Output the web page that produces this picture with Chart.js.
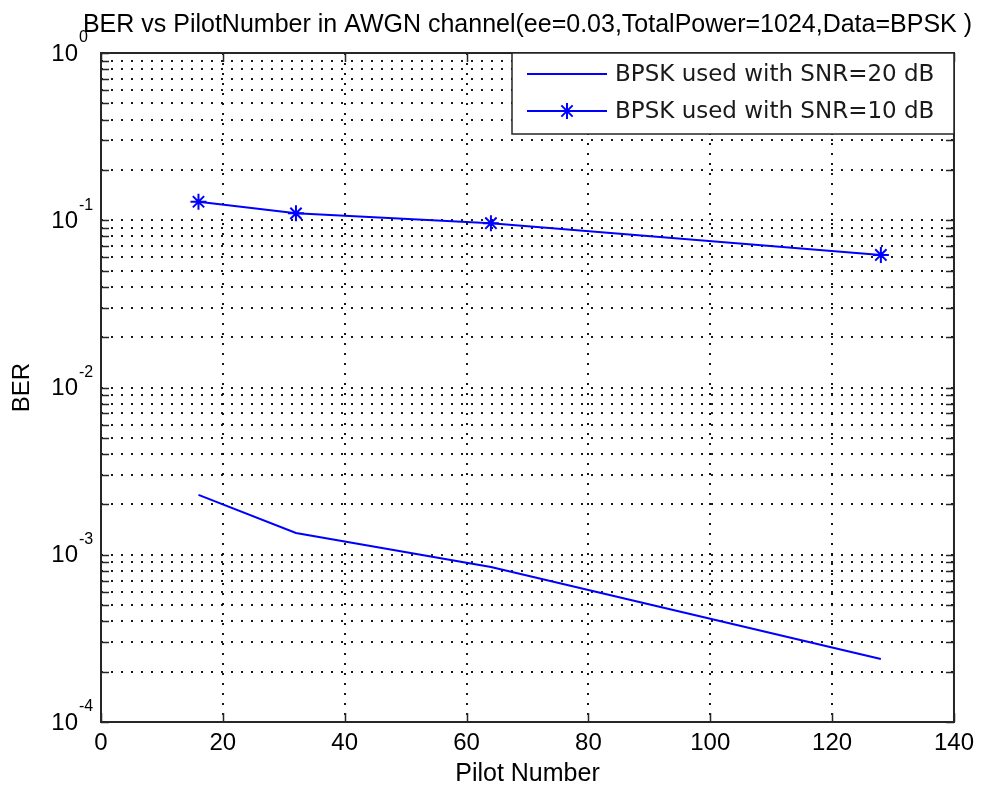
<!DOCTYPE html>
<html>
<head>
<meta charset="utf-8">
<title>BER vs PilotNumber</title>
<script src="https://cdn.jsdelivr.net/npm/chart.js@4.4.1/dist/chart.umd.min.js"></script>
<style>
  html, body { margin: 0; padding: 0; background: #fff; }
  #wrap { width: 981px; height: 789px; }
</style>
</head>
<body>
<div id="wrap"><canvas id="ber" width="981" height="789"></canvas></div>
<script>
// pilot counts on the x axis
const pilotNumbers = [16, 32, 64, 128];
// measured bit error rates
const berSnr20 = [2.28e-3, 1.35e-3, 8.45e-4, 2.38e-4];
const berSnr10 = [0.129, 0.110, 0.096, 0.062];
const seriesLabels = ['BPSK used with SNR=20 dB', 'BPSK used with SNR=10 dB'];

// axis ticks
const xTicks = [0, 20, 40, 60, 80, 100, 120, 140];
const yDecades = [-4, -3, -2, -1, 0];
const yMinorSteps = [2, 3, 4, 5, 6, 7, 8, 9];
const titleText = 'BER vs PilotNumber in AWGN channel(ee=0.03,TotalPower=1024,Data=BPSK )';

const yTicks = [];
yDecades.forEach(function (d) {
  yTicks.push(Math.pow(10, d));
  if (d < 0) yMinorSteps.forEach(function (m) { yTicks.push(m * Math.pow(10, d)); });
});

const BLUE = '#0000ff';
const AXIS = '#262626';
const SANS = '"Liberation Sans", Arial, sans-serif';

function toPoints(ys) {
  return pilotNumbers.map(function (x, i) { return { x: x, y: ys[i] }; });
}

// title, log labels, inward ticks, box and legend in the matlab look
const matlabAxes = {
  id: 'matlabAxes',
  afterDraw(chart) {
    const ctx = chart.ctx;
    const area = chart.chartArea;
    const xs = chart.scales.x;
    const ys = chart.scales.y;
    ctx.save();

    // title over the axes
    ctx.fillStyle = '#000';
    ctx.font = '25px ' + SANS;
    ctx.textAlign = 'center';
    ctx.textBaseline = 'alphabetic';
    ctx.fillText(titleText, (area.left + area.right) / 2, 32);

    // 10^n labels
    yDecades.forEach(function (d) {
      const py = ys.getPixelForValue(Math.pow(10, d));
      ctx.font = '24px ' + SANS;
      ctx.textAlign = 'right';
      ctx.textBaseline = 'middle';
      ctx.fillText('10', 78, py + 1);
      ctx.font = '16px ' + SANS;
      ctx.textAlign = 'left';
      ctx.fillText(String(d), 79, py - 15);
    });

    // tick marks pointing inward
    ctx.strokeStyle = AXIS;
    ctx.lineWidth = 1.5;
    ctx.beginPath();
    xTicks.forEach(function (v) {
      const px = Math.round(xs.getPixelForValue(v)) + 0.5;
      ctx.moveTo(px, area.bottom); ctx.lineTo(px, area.bottom - 9);
      ctx.moveTo(px, area.top); ctx.lineTo(px, area.top + 9);
    });
    yTicks.forEach(function (v) {
      const py = Math.round(ys.getPixelForValue(v)) + 0.5;
      ctx.moveTo(area.left, py); ctx.lineTo(area.left + 8, py);
      ctx.moveTo(area.right, py); ctx.lineTo(area.right - 8, py);
    });
    ctx.stroke();

    // axes box
    ctx.lineWidth = 2;
    ctx.strokeRect(area.left, area.top, area.right - area.left, area.bottom - area.top);

    // legend
    const lx = 512, ly = area.top, lw = area.right - 512, lh = 81;
    ctx.fillStyle = '#fff';
    ctx.fillRect(lx, ly, lw, lh);
    ctx.lineWidth = 1.5;
    ctx.strokeStyle = AXIS;
    ctx.strokeRect(lx, ly, lw, lh);
    chart.data.datasets.forEach(function (ds, i) {
      const ry = ly + 21 + i * 37;
      ctx.strokeStyle = ds.borderColor;
      ctx.lineWidth = 2;
      ctx.beginPath();
      ctx.moveTo(527, ry); ctx.lineTo(607, ry);
      ctx.stroke();
      if (ds.pointRadius > 0) {
        Chart.helpers.drawPoint(ctx, {
          pointStyle: ds.pointStyle, radius: ds.pointRadius,
          borderWidth: ds.pointBorderWidth, rotation: 0
        }, 567, ry);
      }
      ctx.fillStyle = '#1a1a1a';
      ctx.font = '23px "DejaVu Sans", sans-serif';
      ctx.textAlign = 'left';
      ctx.textBaseline = 'middle';
      ctx.fillText(ds.label, 615, ry + 1);
    });
    ctx.restore();
  }
};

new Chart(document.getElementById('ber'), {
  type: 'line',
  data: {
    datasets: [
      {
        label: seriesLabels[0],
        data: toPoints(berSnr20),
        borderColor: BLUE,
        backgroundColor: BLUE,
        borderWidth: 2,
        pointRadius: 0,
        tension: 0
      },
      {
        label: seriesLabels[1],
        data: toPoints(berSnr10),
        borderColor: BLUE,
        backgroundColor: BLUE,
        borderWidth: 2,
        pointStyle: 'star',
        pointRadius: 8,
        pointBorderWidth: 2,
        pointBorderColor: BLUE,
        tension: 0
      }
    ]
  },
  options: {
    responsive: false,
    animation: false,
    devicePixelRatio: 1,
    layout: { padding: { top: 53, right: 26, left: 0, bottom: 0 } },
    plugins: {
      legend: { display: false },
      title: { display: false },
      tooltip: { enabled: false }
    },
    scales: {
      x: {
        type: 'linear',
        min: 0,
        max: 140,
        afterBuildTicks: function (scale) {
          scale.ticks = xTicks.map(function (v) { return { value: v }; });
        },
        afterFit: function (scale) { scale.height = 67; },
        ticks: {
          color: '#000',
          font: { family: SANS, size: 24 },
          padding: 7,
          maxRotation: 0
        },
        grid: {
          drawTicks: false,
          color: 'rgba(0,0,0,0.9)',
          lineWidth: 2
        },
        border: { display: false, dash: [2, 8] },
        title: {
          display: true,
          text: 'Pilot Number',
          color: '#000',
          font: { family: SANS, size: 25 },
          padding: { top: 2, bottom: 0 }
        }
      },
      y: {
        type: 'logarithmic',
        min: 1e-4,
        max: 1,
        afterBuildTicks: function (scale) {
          scale.ticks = yTicks.map(function (v) { return { value: v }; });
        },
        afterFit: function (scale) { scale.width = 101; },
        ticks: { display: false },
        grid: {
          drawTicks: false,
          color: 'rgba(0,0,0,0.9)',
          lineWidth: 2
        },
        border: { display: false, dash: [2, 8] },
        title: {
          display: true,
          text: 'BER',
          color: '#000',
          font: { family: SANS, size: 24 },
          padding: { top: 8, bottom: 0 }
        }
      }
    }
  },
  plugins: [matlabAxes]
});
</script>
</body>
</html>
